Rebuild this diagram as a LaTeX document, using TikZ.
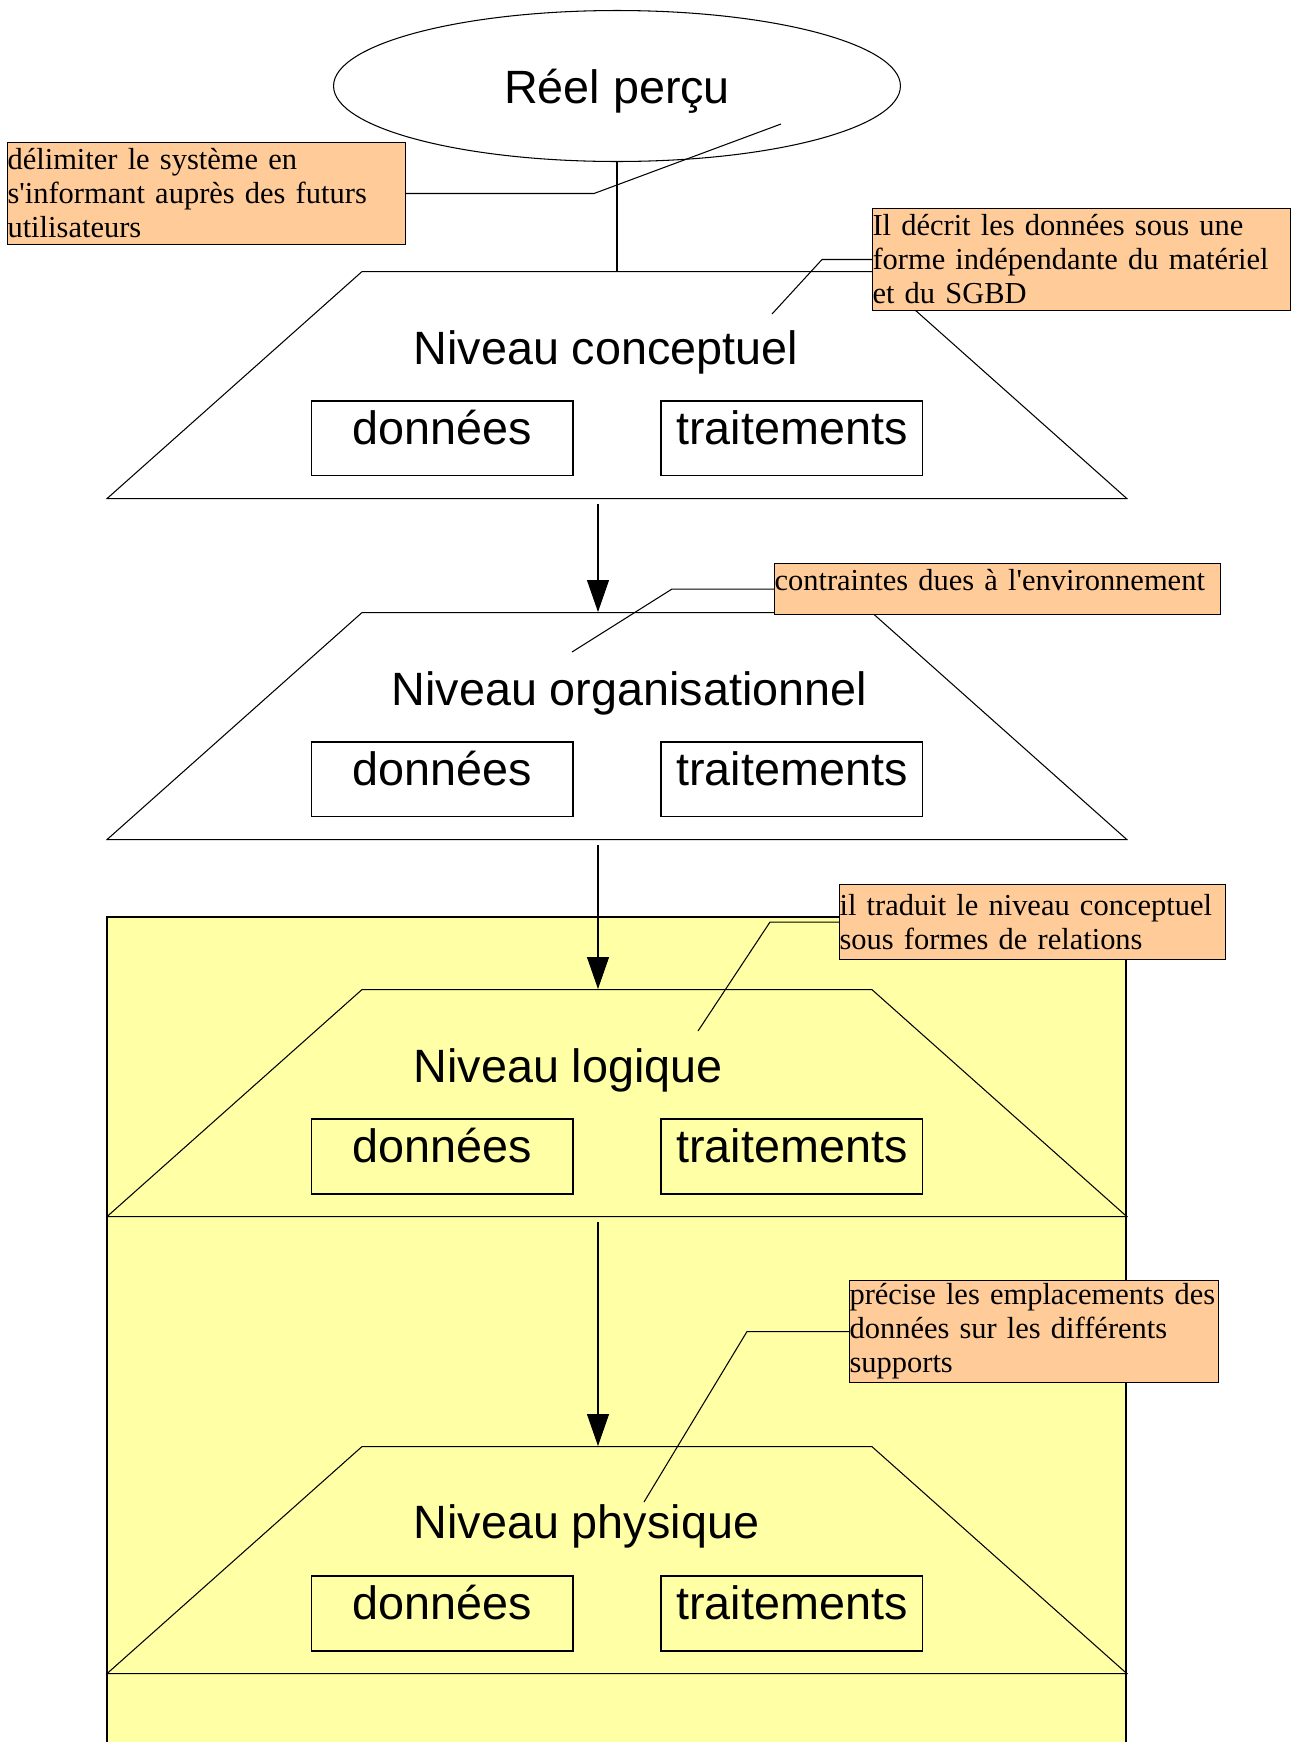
\documentclass[tikz,border=0pt]{standalone}
\usepackage{fontspec}
\setmainfont{Liberation Serif}[Ligatures=TeXOff]
\setsansfont{Liberation Sans}
\usepackage{tikz}
\usetikzlibrary{positioning,arrows.meta,shapes.geometric}
\definecolor{noteorange}{HTML}{FFCC99}
\definecolor{fondjaune}{HTML}{FFFFA6}
\tikzset{
  reel/.style={ellipse, draw, minimum width=11.34cm, minimum height=3.02cm, inner sep=0pt, text depth=0pt,
               font=\sffamily\fontsize{26.6}{32}\selectfont},
  niveau/.style={trapezium, draw, trapezium left angle=41.68, trapezium right angle=41.68,
                 text width=10.2cm, text height=4.54cm, text depth=0pt, inner sep=0pt, anchor=north},
  titre/.style={anchor=base west, inner sep=0pt, font=\sffamily\fontsize{26.6}{32}\selectfont},
  boite/.style={draw, minimum width=5.24cm, text height=0.88cm, text depth=0.62cm, inner sep=0pt,
                font=\sffamily\fontsize{26.6}{32}\selectfont},
  note/.style={draw, fill=noteorange, anchor=north west, align=left, inner sep=0pt,
               font=\fontsize{17.35}{19.35}\selectfont},
  fleche/.style={-{Triangle[length=0.64cm, width=0.44cm]}, shorten <=0.1cm},
}

\begin{document}
\begin{tikzpicture}[x=0.02cm, y=-0.02cm, line width=0.6pt]
  \useasboundingbox (0,0) rectangle (1292,1742);

  % zone jaune (logique + physique)
  \fill[fondjaune] (107,917) rectangle (1126,1760);
  \draw (107,1760) -- (107,917) -- (1126,917) -- (1126,1760);

  \node[reel] (reel) at (617,86) {Réel perçu};

  \node[niveau] (conc) at (617,271) {};
  \node[niveau] (orga) at (617,612) {};
  \node[niveau] (logi) at (617,989) {};
  \node[niveau] (phys) at (617,1446) {};

  \node[titre] (conc-titre) at ([xshift=-4.08cm, yshift=-1.88cm]conc.north) {Niveau conceptuel};
  \node[titre] (orga-titre) at ([xshift=-4.52cm, yshift=-1.87cm]orga.north) {Niveau organisationnel};
  \node[titre] (logi-titre) at ([xshift=-4.08cm, yshift=-1.88cm]logi.north) {Niveau logique};
  \node[titre] (phys-titre) at ([xshift=-4.08cm, yshift=-1.84cm]phys.north) {Niveau physique};

  \node[boite] (conc-d) at ([xshift=-3.5cm, yshift=-3.35cm]conc.north) {données};
  \node[boite] (conc-t) at ([xshift=3.5cm, yshift=-3.35cm]conc.north) {traitements};
  \node[boite] (orga-d) at ([xshift=-3.5cm, yshift=-3.35cm]orga.north) {données};
  \node[boite] (orga-t) at ([xshift=3.5cm, yshift=-3.35cm]orga.north) {traitements};
  \node[boite] (logi-d) at ([xshift=-3.5cm, yshift=-3.35cm]logi.north) {données};
  \node[boite] (logi-t) at ([xshift=3.5cm, yshift=-3.35cm]logi.north) {traitements};
  \node[boite] (phys-d) at ([xshift=-3.5cm, yshift=-3.35cm]phys.north) {données};
  \node[boite] (phys-t) at ([xshift=3.5cm, yshift=-3.35cm]phys.north) {traitements};

  \draw (reel.south) -- (conc.north);
  \draw[fleche] ([xshift=-0.38cm]conc.south) -- ([xshift=-0.38cm]orga.north);
  \draw[fleche] ([xshift=-0.38cm]orga.south) -- ([xshift=-0.38cm]logi.north);
  \draw[fleche] ([xshift=-0.38cm]logi.south) -- ([xshift=-0.38cm]phys.north);

  % notes
  \node[note, text width=7.96cm, minimum height=2.04cm] (note1) at (7,142)
    {délimiter le système en\\s'informant auprès des futurs\\utilisateurs};
  \node[note, text width=8.36cm, minimum height=2.04cm] (note2) at (872,208)
    {Il décrit les données sous une\\forme indépendante du matériel\\et du SGBD};
  \node[note, text width=8.92cm, minimum height=1.02cm, text depth=0.36cm] (note3) at (774,563)
    {contraintes dues à l'environnement};
  \node[note, text width=7.72cm, minimum height=1.5cm] (note4) at (839,884)
    {il traduit le niveau conceptuel\\sous formes de relations};
  \node[note, text width=7.38cm, minimum height=2.04cm] (note5) at (849,1280)
    {précise les emplacements des\\données sur les différents\\supports};

  \coordinate (pt1) at (781,124);
  \coordinate (pt2) at (772,314);
  \coordinate (pt3) at (572,652);
  \coordinate (pt4) at (698,1031);
  \coordinate (pt5) at (644,1502);
  \draw (note1.east) -- ++(188,0) -- (pt1);
  \draw (note2.west) -- ++(-50,0) -- (pt2);
  \draw (note3.west) -- ++(-102,0) -- (pt3);
  \draw (note4.west) -- ++(-69,0) -- (pt4);
  \draw (note5.west) -- ++(-102,0) -- (pt5);
\end{tikzpicture}
\end{document}
